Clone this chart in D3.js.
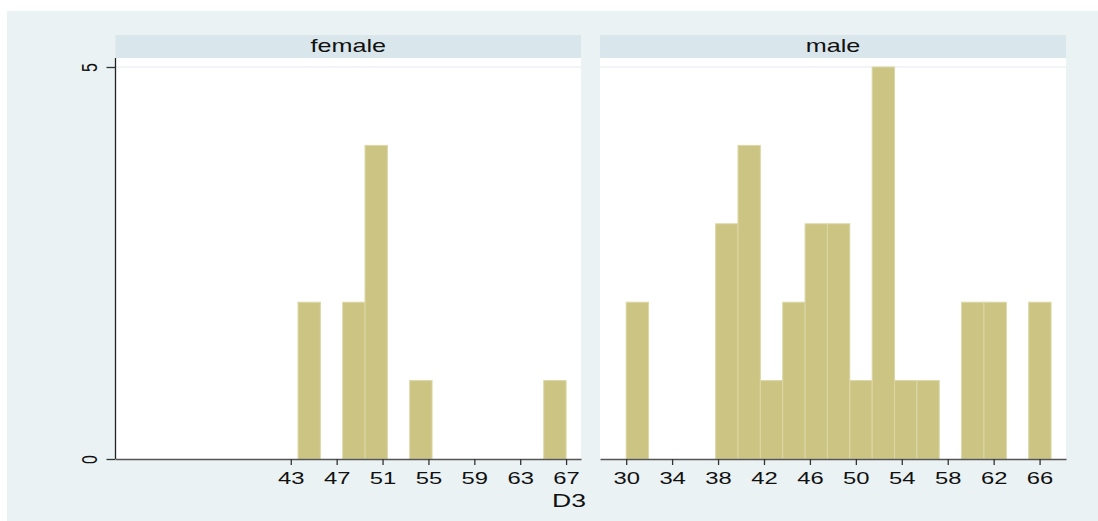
<!DOCTYPE html>
<html>
<head>
<meta charset="utf-8">
<script src="https://cdn.jsdelivr.net/npm/d3@7"></script>
<style>
  body { margin: 0; background: #fff; }
  text { font-family: "Liberation Sans", Arial, sans-serif; fill: #111; }
</style>
</head>
<body>
<div id="chart"></div>
<script>
// histogram of D3 by sex, 19 bins from 30 to 67
var binLo = 30;
var binHi = 67;
var panels = ["female", "male"];
var femaleCounts = [0, 0, 0, 0, 0, 0, 0, 2, 0, 2, 4, 0, 1, 0, 0, 0, 0, 0, 1];
var maleCounts = [2, 0, 0, 0, 3, 4, 1, 2, 3, 3, 1, 5, 1, 1, 0, 2, 2, 0, 2];
var femaleTicks = [43, 47, 51, 55, 59, 63, 67];
var maleTicks = [30, 34, 38, 42, 46, 50, 54, 58, 62, 66];
var yTicks = [0, 5];
var xTitle = "D3";

var width = 1098, height = 521;
var stretch = 1.4; // text in the picture is wider than tall
var color = '#CCC482';

var svg = d3.select("#chart")
	.append("svg")
	.attr("width", width)
	.attr("height", height);

// outer background
svg.append("rect")
	.attr("x", 7).attr("y", 11)
	.attr("width", width - 7).attr("height", height - 11)
	.attr("fill", "#EAF2F3");

var binCount = femaleCounts.length;
var step = (binHi - binLo) / binCount;
var bins = d3.range(binCount).map(function(i) { return binLo + i * step; });

var y = d3.scaleLinear().domain([0, 5]).range([459, 67]);
var plotTop = 58, stripTop = 35;

var layout = [
	{ name: panels[0], left: 115.5, right: 581, counts: femaleCounts, ticks: femaleTicks },
	{ name: panels[1], left: 600, right: 1066, counts: maleCounts, ticks: maleTicks }
];

layout.forEach(function(p, k) {
	var x = d3.scaleLinear().domain([27.72, 68.3]).range([p.left, p.right]);
	var g = svg.append("g");

	// header strip
	g.append("rect")
		.attr("x", p.left).attr("y", stripTop)
		.attr("width", p.right - p.left).attr("height", plotTop - stripTop)
		.attr("fill", "#D9E6EB");
	g.append("text")
		.attr("transform", "translate(" + ((p.left + p.right) / 2) + ",51.7) scale(" + stretch + ",1)")
		.attr("text-anchor", "middle")
		.attr("font-size", 18)
		.text(p.name);

	// plot region
	g.append("rect")
		.attr("x", p.left).attr("y", plotTop)
		.attr("width", p.right - p.left).attr("height", y(0) - plotTop)
		.attr("fill", "#fff");

	// gridline at top tick
	g.append("line")
		.attr("x1", p.left).attr("x2", p.right)
		.attr("y1", y(5)).attr("y2", y(5))
		.attr("stroke", "#E4ECEF").attr("stroke-width", 1.2);

	// bars
	g.selectAll("rect.bar")
		.data(p.counts.map(function(c, i) { return { lo: bins[i], hi: bins[i] + step, n: c }; })
			.filter(function(d) { return d.n > 0; }))
		.enter()
		.append("rect")
		.attr("class", "bar")
		.attr("x", function(d) { return x(d.lo); })
		.attr("width", function(d) { return x(d.hi) - x(d.lo); })
		.attr("y", function(d) { return y(d.n); })
		.attr("height", function(d) { return y(0) - y(d.n); })
		.attr("fill", color)
		.attr("stroke", "#DCD7A6")
		.attr("stroke-width", 1);

	// x axis
	var xa = g.append("g")
		.attr("transform", "translate(0," + y(0) + ")")
		.call(d3.axisBottom(x).tickValues(p.ticks).tickSize(6).tickSizeOuter(0));
	xa.select(".domain").attr("stroke", "#555").attr("stroke-width", 1.3);
	xa.selectAll(".tick line").attr("stroke", "#333").attr("stroke-width", 1.3);
	xa.selectAll(".tick text")
		.attr("font-family", null)
		.attr("font-size", 17)
		.attr("fill", "#111")
		.attr("y", 25).attr("dy", null)
		.attr("transform", "scale(" + stretch + ",1)");

	// y axis only on the first panel
	if (k === 0) {
		g.append("line")
			.attr("x1", p.left).attr("x2", p.left)
			.attr("y1", plotTop).attr("y2", y(0))
			.attr("stroke", "#222").attr("stroke-width", 1.3);
		var ya = g.append("g")
			.attr("transform", "translate(" + p.left + ",0)")
			.call(d3.axisLeft(y).tickValues(yTicks).tickFormat(d3.format("d")).tickSize(9).tickSizeOuter(0));
		ya.select(".domain").remove();
		ya.selectAll(".tick line").attr("stroke", "#333").attr("stroke-width", 1.3);
		ya.selectAll(".tick text")
			.attr("font-family", null)
			.attr("font-size", 16)
			.attr("fill", "#111")
			.attr("x", null).attr("dy", null)
			.attr("text-anchor", "middle")
			.attr("transform", "translate(-19,0) scale(" + stretch + ",1) rotate(-90)");
	}
});

// x title
svg.append("text")
	.attr("transform", "translate(569,507) scale(" + stretch + ",1)")
	.attr("text-anchor", "middle")
	.attr("font-size", 19)
	.text(xTitle);
</script>
</body>
</html>
